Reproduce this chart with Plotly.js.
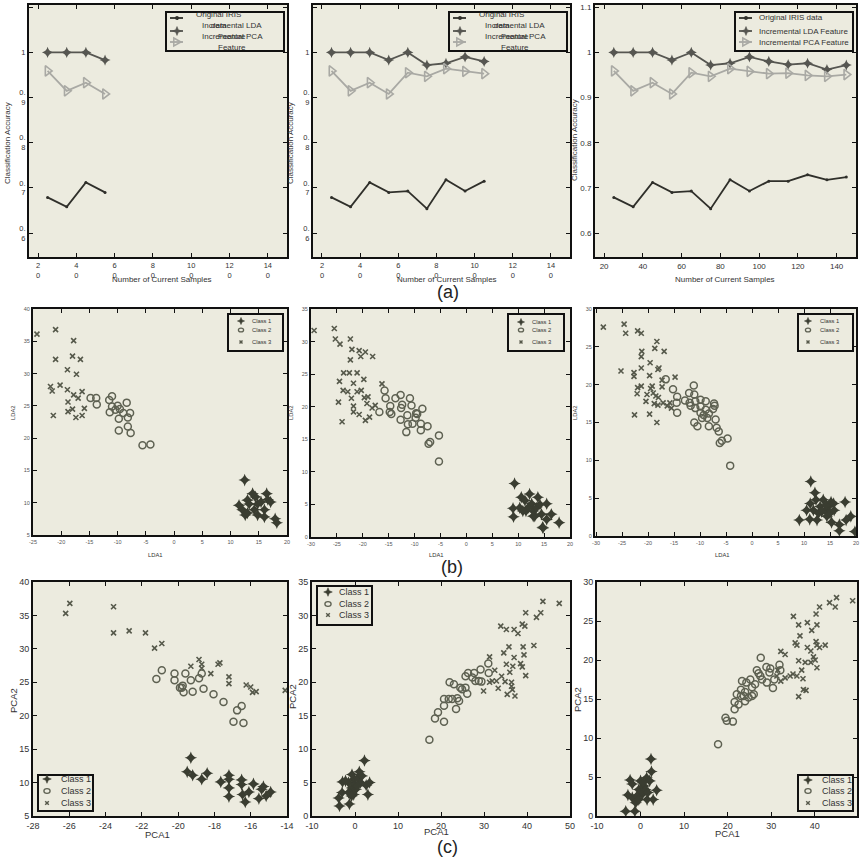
<!DOCTYPE html>
<html><head><meta charset="utf-8">
<script src="https://cdn.plot.ly/plotly-3.0.1.min.js"></script>
<style>html,body{margin:0;padding:0;background:#fff;}#chart{width:863px;height:862px;}</style>
</head><body><div id="chart"></div>
<script>
// ---------------- DATA ----------------
const samples = [25,35,45,55,65,75,85,95,105,115,125,135,145];
const accOriginal = [0.679,0.658,0.712,0.690,0.693,0.654,0.718,0.693,0.715,0.715,0.729,0.718,0.724];
const accLDA = [1.0,1.0,1.0,0.983,1.0,0.972,0.976,0.990,0.980,0.973,0.976,0.962,0.972];
const accPCA = [0.959,0.915,0.933,0.908,0.955,0.947,0.964,0.958,0.953,0.954,0.949,0.947,0.951];
const shownCounts = [4, 9, 13];
const seriesNames = ["Original IRIS data","Incremental LDA Feature","Incremental PCA Feature"];
const classNames = ["Class 1","Class 2","Class 3"];

const sampleTicks = [20,40,60,80,100,120,140];
const sampleTickTextBroken = ["2<br>0","4<br>0","6<br>0","8<br>0","10<br>0","12<br>0","14<br>0"];
const accTicks = [0.6,0.7,0.8,0.9,1.0,1.1];
const accTickTextBroken = ["0.<br>6","0.<br>7","0.<br>8","0.<br>9","1","1.<br>1"];
const accTickText = ["0.6","0.7","0.8","0.9","1","1.1"];

// (b) LDA projections
const b1c1x = [12.5,11.5,12.1,12.6,13.0,13.3,14.4,14.8,14.2,14.8,15.4,16.0,16.0,16.4,16.6,17.1,17.9,18.2,13.9,13.0];
const b1c1y = [13.5,9.6,8.9,8.1,10.4,9.8,10.9,9.8,8.9,8.1,10.1,8.9,7.8,11.4,10.5,10.1,7.5,6.9,11.4,8.4];
const b1c2x = [-14.8,-13.8,-13.7,-11.5,-11.0,-11.0,-11.4,-10.0,-9.6,-9.0,-9.8,-8.4,-8.2,-7.8,-8.2,-9.8,-7.7,-5.6,-4.2,-10.4];
const b1c2y = [26.2,26.2,25.2,25.9,26.5,24.9,24.0,25.0,24.5,23.9,23.0,25.5,23.2,23.9,21.8,21.2,20.8,18.9,19.0,24.4];
const b1c3x = [-24.3,-21.0,-17.8,-21.0,-18.0,-16.6,-18.9,-17.3,-21.9,-21.6,-20.2,-18.9,-17.8,-17.0,-16.3,-18.8,-18.0,-18.8,-15.9,-17.4,-16.3,-21.4];
const b1c3y = [36.1,36.8,35.1,32.2,32.7,32.2,30.6,29.9,28.0,27.3,28.2,27.5,26.7,26.2,27.2,25.6,24.5,24.1,24.6,23.2,23.5,23.5];

const b2c1x = [9.3,9.0,9.1,10.3,10.6,11.3,11.5,12.2,12.6,12.9,13.2,13.5,14.2,14.5,12.9,15.5,15.5,14.7,16.4,17.9,11.9,13.8,10.9,14.8];
const b2c1y = [8.2,4.4,3.1,4.5,6.1,5.6,4.0,6.6,5.1,4.0,3.2,4.5,5.0,3.5,3.2,5.1,2.7,1.5,3.5,2.2,4.5,6.1,4.0,1.4];
const b2c2x = [-15.8,-15.6,-16.8,-14.8,-14.5,-14.7,-13.7,-12.7,-12.4,-12.6,-12.7,-11.4,-11.3,-11.6,-10.9,-10.6,-10.4,-9.8,-9.7,-8.5,-8.8,-8.8,-7.5,-7.3,-7.0,-5.3,-5.3,-9.5];
const b2c2y = [22.5,21.3,19.2,19.2,18.9,20.1,21.3,21.8,20.3,19.8,18.0,18.7,17.3,16.1,21.3,20.2,17.4,18.3,19.0,19.7,17.4,16.4,17.0,14.3,14.6,15.6,11.6,18.9];
const b2c3x = [-29.4,-25.5,-25.3,-24.4,-22.4,-22.1,-22.4,-20.7,-19.5,-20.4,-18.1,-23.7,-22.6,-21.1,-19.8,-24.5,-21.8,-23.8,-22.9,-21.1,-20.3,-24.7,-22.2,-21.8,-19.7,-19.0,-19.2,-18.2,-17.6,-20.7,-19.5,-18.7,-24.0,-16.3,-21.8];
const b2c3y = [31.7,32.0,30.4,29.6,30.4,28.8,27.2,28.6,28.4,27.7,27.7,25.2,25.2,25.2,24.2,23.9,23.6,22.5,22.3,22.3,22.5,20.7,21.3,20.1,21.4,21.5,20.5,19.8,20.2,18.8,17.9,18.4,17.7,23.5,19.2];

const b3c1x = [11.3,12.1,12.3,9.1,11.1,10.5,11.8,12.8,13.1,13.7,14.1,14.4,14.7,15.0,15.2,15.8,15.3,16.8,16.8,18.1,17.9,19.0,19.8,12.5,13.4,14.3,11.2,15.7];
const b3c1y = [7.2,5.7,4.8,2.1,2.2,3.4,3.4,3.0,3.9,4.8,3.4,2.6,3.9,3.0,4.5,3.4,1.8,1.5,0.7,2.1,4.5,2.6,0.6,2.1,3.2,4.1,4.3,4.3];
const b3c2x = [-16.6,-15.2,-14.4,-14.5,-14.4,-12.9,-12.1,-12.0,-11.8,-11.2,-11.1,-10.9,-10.9,-11.1,-10.5,-9.9,-9.9,-9.9,-8.9,-8.9,-8.6,-8.3,-8.3,-7.5,-7.3,-7.0,-6.8,-6.4,-7.2,-6.2,-5.8,-4.7,-4.2,-9.6,-9.3];
const b3c2y = [20.7,19.4,18.4,17.6,16.3,17.9,18.9,17.6,17.2,19.9,18.7,17.8,16.9,15.0,14.5,17.1,16.3,18.0,17.8,16.7,15.6,16.2,14.5,16.8,17.5,15.4,14.3,13.8,17.2,12.3,12.6,12.9,9.3,15.6,16.0];
const b3c3x = [-28.6,-24.6,-24.3,-22.0,-21.3,-18.3,-18.7,-21.2,-21.3,-16.9,-19.6,-21.3,-25.2,-22.7,-22.7,-19.7,-18.1,-17.9,-14.8,-22.0,-22.1,-21.3,-19.5,-19.2,-20.2,-19.0,-18.5,-18.0,-18.8,-17.1,-16.3,-15.8,-15.5,-17.3,-20.4,-22.6,-19.7,-18.3,-18.1,-17.3];
const b3c3y = [27.6,28.0,26.8,27.1,26.8,25.7,24.8,24.4,23.7,24.4,22.9,22.2,21.8,21.6,21.1,21.2,22.0,22.2,21.0,19.6,18.8,19.8,19.5,19.8,18.7,18.9,18.5,18.3,17.5,17.6,17.2,17.6,16.9,19.7,17.8,16.0,16.1,15.0,17.3,20.6];

// (c) PCA projections
const c1c1x = [-19.3,-19.5,-19.2,-18.7,-18.4,-17.65,-17.2,-17.2,-17.2,-17.2,-16.5,-16.5,-16.45,-16.3,-16.1,-15.85,-15.55,-15.4,-15.3,-15.15,-14.9];
const c1c1y = [13.7,11.6,11.1,10.5,11.4,10.1,11.1,10.5,9.2,7.9,10.4,9.7,8.2,7.1,8.6,9.8,7.6,9.0,9.4,8.0,8.6];
const c1c2x = [-21.2,-20.9,-20.2,-20.2,-19.6,-19.3,-19.9,-19.75,-19.7,-19.2,-18.7,-18.6,-18.85,-18.05,-17.5,-16.95,-16.75,-16.5,-16.4,-19.8];
const c1c2y = [25.5,26.8,26.3,25.3,26.3,25.3,24.2,24.5,23.5,23.6,26.3,24.05,25.6,23.2,22.05,19.1,20.8,21.45,18.9,24.2];
const c1c3x = [-25.97,-26.2,-23.56,-23.56,-22.7,-21.8,-21.3,-20.9,-19.3,-18.85,-18.7,-17.7,-17.8,-18.2,-17.2,-17.2,-16.25,-16.0,-15.9,-15.7,-14.1,-18.7];
const c1c3y = [36.8,35.3,36.3,32.4,32.7,32.4,30.1,30.8,27.4,28.4,27.7,27.9,27.7,26.3,25.8,24.8,24.6,24.3,23.5,23.6,23.8,27.1];

const c2c1x = [-3.8,-3.6,-3.0,-2.9,-1.5,-1.3,-1.5,-0.7,-0.3,0.1,0.2,0.7,1.0,1.3,1.6,2.2,2.6,3.0,3.4,0.5,-0.3,-0.8,-2.2,-0.7];
const c2c1y = [2.7,1.5,3.5,5.1,3.5,1.8,5.0,4.2,5.5,4.7,4.0,5.7,6.6,5.0,6.0,8.3,4.6,3.2,5.0,4.5,3.2,3.0,5.25,6.2];
const c2c2x = [17.3,18.6,19.3,20.7,20.7,20.7,21.8,22.0,23.0,23.5,22.6,23.8,24.2,24.5,24.9,25.7,26.1,25.7,26.3,27.3,28.0,28.8,29.2,29.4,31.0,31.1,27.7];
const c2c2y = [11.4,14.6,15.5,14.1,16.5,17.5,17.5,20.0,19.7,16.0,17.5,17.6,17.2,19.2,18.95,19.2,18.3,20.9,21.4,20.7,20.2,20.2,21.9,20.1,22.8,21.4,21.4];
const c2c3x = [43.7,47.5,39.7,43.2,42.2,33.9,35.2,37.0,37.9,38.9,39.5,35.8,39.1,41.6,34.6,31.3,39.3,37.0,35.2,36.7,38.5,38.9,36.0,32.5,34.1,31.9,31.3,32.9,34.9,36.4,39.7,36.4,36.6,33.3,35.4,37.2,29.9];
const c2c3y = [32.1,31.8,30.4,30.4,29.7,28.4,27.9,27.9,27.3,28.7,28.4,25.3,25.3,25.5,24.4,23.8,24.1,23.7,22.7,22.4,22.8,22.3,21.5,21.8,20.9,20.2,20.0,20.2,20.1,20.0,21.0,19.4,18.9,19.1,18.2,17.95,18.7];

const c3c1x = [-3.4,-1.3,-2.4,-1.9,-2.9,-1.9,-1.1,-0.4,0,0.4,0.8,1.4,1.5,2.1,2.5,2.4,2.9,3.7,-0.8,0.2,1.1,-0.4,1.7,0.6];
const c3c1y = [0.6,0.6,4.6,4.1,2.7,2.35,1.7,3.4,4.5,2.8,3.85,4.9,2.1,4.5,5.7,7.3,2.1,3.3,2.6,3.2,3.4,2.1,3.0,4.3];
const c3c2x = [27.6,26.7,27.1,28.9,29.8,29.6,27.5,27.9,29.0,30.4,30.7,31.9,32.1,25.2,25.6,24.3,24.0,23.3,23.05,23.05,22.1,21.6,21.6,22.5,24.0,24.8,26.0,19.5,19.8,21.2,17.8,23.7,26.3,25.6];
const c3c2y = [20.3,18.7,18.3,19.1,18.9,18.4,17.95,17.5,17.1,16.4,17.5,19.4,18.7,17.5,16.5,17.1,15.9,17.3,16.2,15.4,15.6,14.6,13.7,14.3,14.7,15.2,15.6,12.6,12.2,12.1,9.2,15.4,16.9,15.4];
const c3c3x = [45.0,48.7,43.4,44.7,41.1,40.3,35.1,38.3,36.3,40.5,39.3,36.6,40.3,35.5,35.9,42.4,40.5,41.1,38.3,39.1,32.2,33.2,39.7,36.3,37.8,39.1,40.1,37.0,35.0,34.35,35.9,33.2,37.3,32.2,31.3,37.4,38.0,36.3,40.5,31.5];
const c3c3y = [28.0,27.6,27.35,26.8,26.8,25.9,25.6,24.8,24.5,24.5,23.8,23.1,22.35,22.2,21.9,21.9,21.9,21.6,21.6,21.15,21.1,20.7,20.4,19.9,19.7,19.7,20.0,18.7,18.2,17.95,17.95,17.7,17.6,17.3,17.95,16.2,16.1,15.3,19.0,18.7];

const ldaTicks1x = [-25,-20,-15,-10,-5,0,5,10,15,20];
const ldaTicks23x = [-30,-25,-20,-15,-10,-5,0,5,10,15,20];
const ldaTicks1y = [5,10,15,20,25,30,35,40];
const ldaTicks2y = [0,5,10,15,20,25,30,35];
const ldaTicks3y = [0,5,10,15,20,25,30];
const pcaTicks1x = [-28,-26,-24,-22,-20,-18,-16,-14];
const pcaTicks23x = [-10,0,10,20,30,40,50];
const pcaTicks1y = [5,10,15,20,25,30,35,40];
const pcaTicks2y = [0,5,10,15,20,25,30,35];
const pcaTicks3y = [0,5,10,15,20,25,30];

// ---------------- STYLE / LAYOUT ----------------
const W = 863, H = 862;
const FONT = "Liberation Sans, Arial, sans-serif";
const BG = "#ecebdf";
const cOrig = "#2f2f2a", cLDA = "#565651", cPCA = "#a9a9a4";
const cls1 = "#3a3d31", cls2 = "#5e6152", cls3 = "#56594b";

const px = v => v / W;
const py = v => 1 - v / H;

const panels = [
  {x:[29,287], y:[5,257],   xr:[15.3,150], yr:[0.547,1.105]},
  {x:[313,570],y:[5,257],   xr:[15.3,150], yr:[0.547,1.105]},
  {x:[595,856],y:[5,257],   xr:[15.3,150], yr:[0.547,1.105]},
  {x:[33,287], y:[309,535], xr:[-25,20],   yr:[5,40]},
  {x:[311,570],y:[309,537], xr:[-30,20],   yr:[0,35]},
  {x:[595,856],y:[309,536], xr:[-30.2,20], yr:[0,30]},
  {x:[33,287], y:[582,816], xr:[-28,-14],  yr:[5,40]},
  {x:[312,570],y:[582,816], xr:[-10,50],   yr:[0,35]},
  {x:[597,857],y:[582,816], xr:[-10,49.7], yr:[0,30]}
];
const tickSpec = [
  {xv:sampleTicks, xt:sampleTickTextBroken, yv:accTicks, yt:accTickTextBroken, fs:7.5, col:"#333"},
  {xv:sampleTicks, xt:sampleTickTextBroken, yv:accTicks, yt:accTickTextBroken, fs:7.5, col:"#333"},
  {xv:sampleTicks, xt:sampleTicks.map(String), yv:accTicks, yt:accTickText, fs:8, col:"#333"},
  {xv:ldaTicks1x, xt:ldaTicks1x.map(String), yv:ldaTicks1y, yt:ldaTicks1y.map(String), fs:5.5, col:"#555"},
  {xv:ldaTicks23x, xt:ldaTicks23x.map(String), yv:ldaTicks2y, yt:ldaTicks2y.map(String), fs:5.5, col:"#555"},
  {xv:ldaTicks23x, xt:ldaTicks23x.map(String), yv:ldaTicks3y, yt:ldaTicks3y.map(String), fs:5.5, col:"#555"},
  {xv:pcaTicks1x, xt:pcaTicks1x.map(String), yv:pcaTicks1y, yt:pcaTicks1y.map(String), fs:9, col:"#333"},
  {xv:pcaTicks23x, xt:pcaTicks23x.map(String), yv:pcaTicks2y, yt:pcaTicks2y.map(String), fs:9, col:"#333"},
  {xv:pcaTicks23x, xt:pcaTicks23x.map(String), yv:pcaTicks3y, yt:pcaTicks3y.map(String), fs:9, col:"#333"}
];

const layout = {
  width: W, height: H, paper_bgcolor: "#fff", plot_bgcolor: BG,
  margin: {l:0, r:0, t:0, b:0}, showlegend: false,
  font: {family: FONT, color: "#333"},
  shapes: [], annotations: []
};
panels.forEach((p, i) => {
  const n = i + 1, sfx = n === 1 ? "" : String(n);
  const t = tickSpec[i];
  const common = {showline:true, linewidth:2, linecolor:"#111", mirror:"ticks", ticks:"inside",
    ticklen:4, tickwidth:1, tickcolor:"#111", showgrid:false, zeroline:false, fixedrange:true,
    tickfont:{size:t.fs, color:t.col, family:FONT}, tickmode:"array"};
  layout["xaxis"+sfx] = Object.assign({}, common, {domain:[px(p.x[0]), px(p.x[1])], range:p.xr,
    anchor:"y"+sfx, tickvals:t.xv, ticktext:t.xt});
  layout["yaxis"+sfx] = Object.assign({}, common, {domain:[py(p.y[1]), py(p.y[0])], range:p.yr,
    anchor:"x"+sfx, tickvals:t.yv, ticktext:t.yt});
});

// ---------------- TRACES ----------------
const traces = [];
function axes(n){ return n === 1 ? {xaxis:"x", yaxis:"y"} : {xaxis:"x"+n, yaxis:"y"+n}; }
shownCounts.forEach((cnt, i) => {
  const a = axes(i+1);
  const xs = samples.slice(0, cnt);
  traces.push(Object.assign({type:"scatter", mode:"lines+markers", x:xs, y:accOriginal.slice(0,cnt),
    name:seriesNames[0], line:{color:cOrig, width:1.8}, marker:{symbol:"circle", size:3, color:cOrig}, hoverinfo:"skip"}, a));
  traces.push(Object.assign({type:"scatter", mode:"lines+markers", x:xs, y:accLDA.slice(0,cnt),
    name:seriesNames[1], line:{color:cLDA, width:1.8}, marker:{symbol:"star-diamond", size:8, color:cLDA}, hoverinfo:"skip"}, a));
  traces.push(Object.assign({type:"scatter", mode:"lines+markers", x:xs, y:accPCA.slice(0,cnt),
    name:seriesNames[2], line:{color:cPCA, width:1.8}, marker:{symbol:"triangle-right-open", size:9, color:cPCA, line:{width:1.6}}, hoverinfo:"skip"}, a));
});
const scatterSets = [
  [b1c1x,b1c1y,b1c2x,b1c2y,b1c3x,b1c3y],
  [b2c1x,b2c1y,b2c2x,b2c2y,b2c3x,b2c3y],
  [b3c1x,b3c1y,b3c2x,b3c2y,b3c3x,b3c3y],
  [c1c1x,c1c1y,c1c2x,c1c2y,c1c3x,c1c3y],
  [c2c1x,c2c1y,c2c2x,c2c2y,c2c3x,c2c3y],
  [c3c1x,c3c1y,c3c2x,c3c2y,c3c3x,c3c3y]
];
scatterSets.forEach((s, k) => {
  const a = axes(k + 4);
  traces.push(Object.assign({type:"scatter", mode:"markers", x:s[4], y:s[5], name:classNames[2],
    marker:{symbol:"x-thin-open", size:5, color:cls3, line:{width:1.6}}, hoverinfo:"skip"}, a));
  traces.push(Object.assign({type:"scatter", mode:"markers", x:s[2], y:s[3], name:classNames[1],
    marker:{symbol:"circle-open", size:7, color:cls2, line:{width:1.5}}, hoverinfo:"skip"}, a));
  traces.push(Object.assign({type:"scatter", mode:"markers", x:s[0], y:s[1], name:classNames[0],
    marker:{symbol:"star-diamond", size:9, color:cls1}, hoverinfo:"skip"}, a));
});

// ---------------- LEGENDS (drawn with shapes + text) ----------------
const S = layout.shapes, A = layout.annotations;
function rect(x0,y0,x1,y1){ S.push({type:"rect", xref:"paper", yref:"paper", x0:px(x0), x1:px(x1), y0:py(y1), y1:py(y0), line:{color:"#111", width:2}, fillcolor:BG}); }
function seg(x0,y0,x1,y1,color,w){ S.push({type:"line", xref:"paper", yref:"paper", x0:px(x0), x1:px(x1), y0:py(y0), y1:py(y1), line:{color:color, width:w}}); }
function path(pts, close, color, fill, w){
  let d = pts.map((p,j)=> (j?"L":"M") + px(p[0]).toFixed(5) + "," + py(p[1]).toFixed(5)).join(" ") + (close?" Z":"");
  S.push({type:"path", xref:"paper", yref:"paper", path:d, line:{color:color, width:w}, fillcolor:fill || "rgba(0,0,0,0)"});
}
function star(cx,cy,r,color){ const q=r*0.3; path([[cx,cy-r],[cx+q,cy-q],[cx+r,cy],[cx+q,cy+q],[cx,cy+r],[cx-q,cy+q],[cx-r,cy],[cx-q,cy-q]], true, color, color, 0.5); }
function ell(cx,cy,rx,ry,color,w){ S.push({type:"circle", xref:"paper", yref:"paper", x0:px(cx-rx), x1:px(cx+rx), y0:py(cy+ry), y1:py(cy-ry), line:{color:color, width:w}}); }
function xmark(cx,cy,r,color,w){ path([[cx-r,cy-r],[cx+r,cy+r]], false, color, null, w); path([[cx-r,cy+r],[cx+r,cy-r]], false, color, null, w); }
function tri(cx,cy,r,color,w){ path([[cx-r*0.8,cy-r],[cx+r,cy],[cx-r*0.8,cy+r]], true, color, null, w); }
function txt(x,y,text,size,anchor,extra){ A.push(Object.assign({xref:"paper", yref:"paper", x:px(x), y:py(y), text:text, showarrow:false,
  xanchor:anchor||"left", yanchor:"middle", font:{family:FONT, size:size, color:"#333"}}, extra||{})); }

function accLegendBase(x0){
  rect(x0, 12, x0+118, 51);
  const lx0 = x0+4, lx1 = x0+17, cx = x0+11;
  seg(lx0,18,lx1,18,cOrig,1.8); ell(cx,18,1.2,1.2,cOrig,1.5);
  seg(lx0,31,lx1,31,cLDA,1.8); star(cx,31,4.5,cLDA);
  seg(lx0,42,lx1,42,cPCA,1.8); tri(cx,42,4,cPCA,1.5);
}
// panels (a)1 and (a)2: wrapped / overlapping legend text as in the original figure
[166, 449].forEach(x0 => {
  accLegendBase(x0);
  txt(x0+52, 14, "Original IRIS", 8, "center");
  txt(x0+66, 25, "Incremental LDA", 8, "center");
  txt(x0+53, 25, "data", 8, "center");
  txt(x0+66, 36, "Incremental PCA", 8, "center");
  txt(x0+66, 36, "Feature", 8, "center");
  txt(x0+66, 47, "Feature", 8, "center");
});
// panel (a)3
accLegendBase(735);
txt(757, 18, seriesNames[0], 8);
txt(757, 31, seriesNames[1], 8);
txt(757, 43, seriesNames[2], 8);

function classLegend(x0,y0,w,h,rows,mx,tx,fs,sc){
  rect(x0,y0,x0+w,y0+h);
  star(mx,rows[0],3.6*sc,cls1);
  ell(mx,rows[1],2.6*sc,1.9*sc,cls2,1.3);
  xmark(mx,rows[2],1.5*sc,cls3,1.4);
  rows.forEach((r,j)=> txt(tx, r, classNames[j], fs));
}
classLegend(228,314,55,37,[321,330,342],241,250,5.8,1);
classLegend(508,314,56,37,[322,330,342],521,530,5.8,1);
classLegend(798,314,55,37,[321,330,342],808,818,5.8,1);
classLegend(38,775,55,36,[779,791,803],47,59,9,1.2);
classLegend(317,586,55,39,[592,604,615],328,337,9,1.2);
classLegend(798,775,55,36,[780,791,803],808,820,9,1.2);

// ---------------- AXIS TITLES / PANEL LABELS ----------------
[[7,143],[290,143],[575,140]].forEach(p => txt(p[0], p[1], "Classification Accuracy", 8, "center", {textangle:-90}));
[[162,279],[447,279],[725,279]].forEach(p => txt(p[0], p[1], "Number of Current Samples", 8, "center"));
[[13,413],[291,413],[575,413]].forEach(p => txt(p[0], p[1], "LDA2", 5.8, "center", {textangle:-90}));
[[155,555],[437,555],[722,555]].forEach(p => txt(p[0], p[1], "LDA1", 5.8, "center"));
[[13,701],[292,697],[577,700]].forEach(p => txt(p[0], p[1], "PCA2", 9.5, "center", {textangle:-90}));
[[157,834],[437,831],[727,833]].forEach(p => txt(p[0], p[1], "PCA1", 9.5, "center"));
txt(448, 292, "(a)", 18, "center", {font:{family:FONT, size:18, color:"#222"}});
txt(452, 567, "(b)", 18, "center", {font:{family:FONT, size:18, color:"#222"}});
txt(448, 847, "(c)", 18, "center", {font:{family:FONT, size:18, color:"#222"}});

Plotly.newPlot("chart", traces, layout, {staticPlot:true, displayModeBar:false});
</script>
</body></html>
